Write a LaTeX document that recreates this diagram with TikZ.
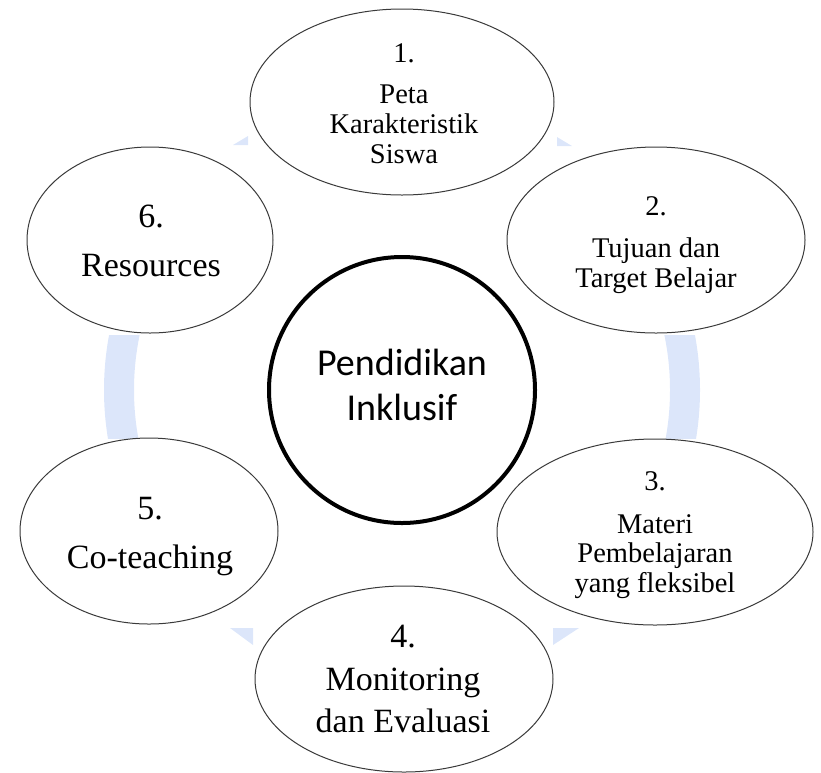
\documentclass[tikz,border=0pt]{standalone}
\usepackage{fontspec}
\setmainfont{Liberation Serif}
\newfontfamily\calibrifont{Carlito}
\usetikzlibrary{shapes.geometric}
\definecolor{ringblue}{HTML}{DCE6FA}
\definecolor{edgegray}{HTML}{3A3A3A}
\tikzset{
  bubble/.style={draw=edgegray, line width=1pt, fill=white, ellipse, inner sep=0pt},
  hub/.style={draw=black, line width=4pt, fill=white, circle, inner sep=0pt, minimum size=266pt},
  lbl/.style={anchor=base, inner sep=0pt, font=#1},
  arrowtip/.style={fill=ringblue, draw=none}
}
\newcommand{\lines}[1]{\begin{tabular}[t]{@{}c@{}}#1\end{tabular}}
\begin{document}
\begin{tikzpicture}[x=1pt,y=-1pt]
\useasboundingbox (0,0) rectangle (821,772);
% ring segments
\begin{scope}
  \clip (90,335) rectangle (150,438);
  \draw[ringblue, line width=30pt] (402,390) circle[radius=283];
\end{scope}
\begin{scope}
  \clip (650,335) rectangle (715,438);
  \draw[ringblue, line width=30pt] (402,390) circle[radius=283];
\end{scope}
% arrow tips
\coordinate (tl1) at (233,145); \coordinate (tl2) at (248,136); \coordinate (tl3) at (248,145);
\coordinate (tr1) at (557,137); \coordinate (tr2) at (557,146); \coordinate (tr3) at (572,146);
\coordinate (bl1) at (230,628); \coordinate (bl2) at (253,628); \coordinate (bl3) at (253,645);
\coordinate (br1) at (553,628); \coordinate (br2) at (579,628); \coordinate (br3) at (553,645);
\fill[arrowtip] (tl1) -- (tl2) -- (tl3) -- cycle;
\fill[arrowtip] (tr1) -- (tr2) -- (tr3) -- cycle;
\fill[arrowtip] (bl1) -- (bl2) -- (bl3) -- cycle;
\fill[arrowtip] (br1) -- (br2) -- (br3) -- cycle;
% hub
\node[hub] (hub) at (402,390) {};
\node[lbl={\calibrifont\fontsize{38}{45}\selectfont}] (hubtxt) at (402,375) {\lines{Pendidikan\\Inklusif}};
% bubbles
\node[bubble, minimum width=304pt, minimum height=186pt] (e1) at (402,102) {};
\node[bubble, minimum width=298pt, minimum height=186pt] (e2) at (656,240) {};
\node[bubble, minimum width=316pt, minimum height=186pt] (e3) at (655,532) {};
\node[bubble, minimum width=298pt, minimum height=186pt] (e4) at (404,679) {};
\node[bubble, minimum width=258pt, minimum height=186pt] (e5) at (149,531) {};
\node[bubble, minimum width=246pt, minimum height=186pt] (e6) at (150,240) {};
% labels
\node[lbl={\fontsize{28.5}{30}\selectfont}] (t1) at (404,62) {\lines{1.\\[11pt]Peta\\Karakteristik\\Siswa}};
\node[lbl={\fontsize{28.5}{30}\selectfont}] (t2) at (656,215) {\lines{2.\\[12pt]Tujuan dan\\Target Belajar}};
\node[lbl={\fontsize{28.5}{29.5}\selectfont}] (t3) at (655,490) {\lines{3.\\[13.5pt]Materi\\Pembelajaran\\yang fleksibel}};
\node[lbl={\fontsize{34}{42}\selectfont}] (t4) at (403,647) {\lines{4.\\[1pt]Monitoring\\dan Evaluasi}};
\node[lbl={\fontsize{34}{42}\selectfont}] (t5) at (150,519) {\lines{5.\\[7pt]Co-teaching}};
\node[lbl={\fontsize{34}{42}\selectfont}] (t6) at (151,227) {\lines{6.\\[7pt]Resources}};
\end{tikzpicture}
\end{document}
